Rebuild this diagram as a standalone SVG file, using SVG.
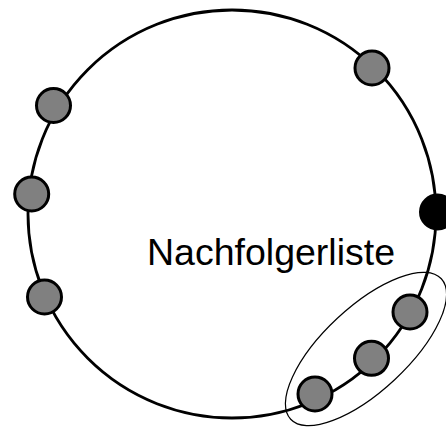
<svg xmlns="http://www.w3.org/2000/svg" width="446" height="428" viewBox="0 0 446 428">
  <style>
    .ring { fill: none; stroke: #000; stroke-width: 2.8; }
    .node { fill: #808080; stroke: #000; stroke-width: 3; }
    .self { fill: #000; stroke: #000; stroke-width: 3; }
    .group { fill: none; stroke: #000; stroke-width: 1.2; }
    .label { font-family: "Liberation Sans", Arial, sans-serif; font-size: 37.5px; fill: #000; }
  </style>
  <rect width="446" height="428" fill="#fff"/>
  <g id="connectors">
    <circle class="ring" cx="232" cy="214" r="204"/>
  </g>
  <g id="node-1"><circle class="node" cx="372" cy="68" r="17"/></g>
  <g id="node-2"><circle class="node" cx="53.5" cy="105.5" r="17"/></g>
  <g id="node-3"><circle class="node" cx="31.7" cy="194" r="17"/></g>
  <g id="node-4"><circle class="node" cx="44.5" cy="297" r="17"/></g>
  <g id="node-self"><circle class="self" cx="437.5" cy="212" r="17"/></g>
  <g id="node-succ-1"><circle class="node" cx="410" cy="312" r="17"/></g>
  <g id="node-succ-2"><circle class="node" cx="371.5" cy="358.3" r="17"/></g>
  <g id="node-succ-3"><circle class="node" cx="315" cy="394" r="17"/></g>
  <g id="successor-list">
    <ellipse class="group" cx="366" cy="349" rx="103" ry="42" transform="rotate(-43 366 349)"/>
  </g>
  <g id="label">
    <text class="label" x="147" y="265">Nachfolgerliste</text>
  </g>
</svg>
